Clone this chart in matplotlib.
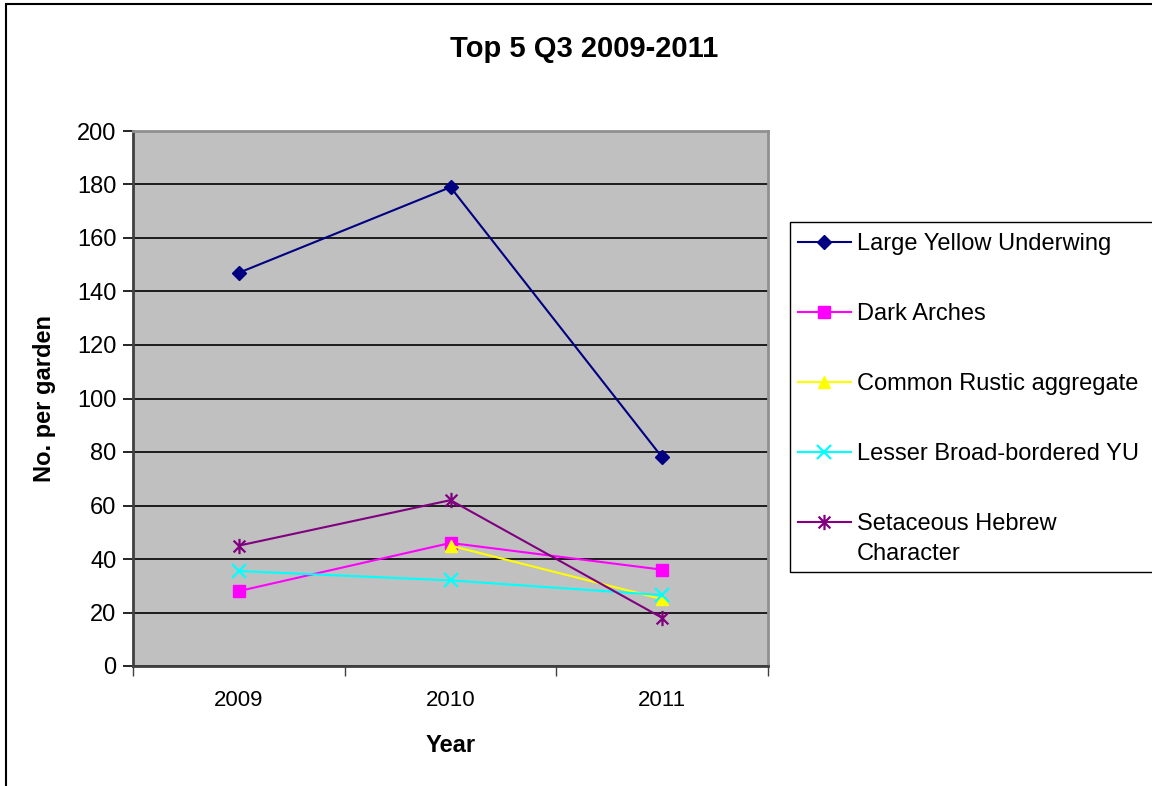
import numpy as np
import matplotlib.pyplot as plt
from matplotlib.path import Path
from matplotlib.patches import Rectangle
from matplotlib.lines import Line2D

plt.rcParams['font.family'] = ['Liberation Sans', 'DejaVu Sans']

# data: moths per garden, third quarter
years = ['2009', '2010', '2011']
large_yellow_underwing = [147, 179, 78]
dark_arches = [28, 46, 36]
common_rustic_agg = [np.nan, 45, 25]
lesser_broad_bordered_yu = [35.5, 32, 26.5]
setaceous_hebrew = [45, 62, 18]

labels = ['Large Yellow Underwing', 'Dark Arches', 'Common Rustic aggregate',
          'Lesser Broad-bordered YU', 'Setaceous Hebrew\nCharacter']
colours = ['#000080', '#FF00FF', '#FFFF00', '#00FFFF', '#800080']

# asterisk marker: an x with a vertical bar through it
star = Path([(-1, -1), (1, 1), (-1, 1), (1, -1), (0, -1.3), (0, 1.3)],
            [Path.MOVETO, Path.LINETO, Path.MOVETO, Path.LINETO, Path.MOVETO, Path.LINETO])
markers = ['D', 's', '^', 'x', star]
msizes = [7, 8, 9, 10, 11]

series = [large_yellow_underwing, dark_arches, common_rustic_agg,
          lesser_broad_bordered_yu, setaceous_hebrew]

fig = plt.figure(figsize=(11.52, 7.86), dpi=100)
W, H = 1152, 786

# chart frame
fig.patches.append(Rectangle((6 / W, -0.1), 1.2, 1 - 4 / H + 0.1, transform=fig.transFigure,
                             fill=False, edgecolor='black', linewidth=1.5))

ax = fig.add_axes([133 / W, 1 - 666 / H, (768 - 133) / W, (666 - 131) / H])
ax.set_facecolor('#C0C0C0')

x = np.arange(len(years))
for vals, c, m, ms in zip(series, colours, markers, msizes):
    mew = 1.6 if m in ('x',) or isinstance(m, Path) else 1
    ax.plot(x, vals, color=c, linewidth=1.5, marker=m, markersize=ms,
            markerfacecolor=c, markeredgecolor=c, markeredgewidth=mew, zorder=3)

ax.set_xlim(-0.5, 2.5)
ax.set_ylim(0, 200)
ax.set_yticks(np.arange(0, 201, 20))
ax.yaxis.grid(True, color='black', linewidth=1.2)
ax.set_axisbelow(True)

ax.set_xticks(x)
ax.set_xticklabels(years, fontsize=16)
ax.set_xticks([-0.5, 0.5, 1.5, 2.5], minor=True)
ax.tick_params(axis='x', which='major', length=0, pad=17)
ax.tick_params(axis='x', which='minor', length=7, width=1, color='#404040')
ax.tick_params(axis='y', length=7, width=1.2, color='black', labelsize=17, pad=5)

ax.spines['left'].set_color('#404040')
ax.spines['bottom'].set_color('#404040')
ax.spines['top'].set_color('#909090')
ax.spines['right'].set_color('#909090')
for s in ax.spines.values():
    s.set_linewidth(2)

fig.text(584 / W, 1 - 49 / H, 'Top 5 Q3 2009-2011', ha='center', va='center',
         fontsize=21, fontweight='bold')
fig.text(45 / W, 1 - 398 / H, 'No. per garden', ha='center', va='center',
         rotation=90, fontsize=17, fontweight='bold')
fig.text(451 / W, 1 - 745 / H, 'Year', ha='center', va='center',
         fontsize=17, fontweight='bold')

# legend box
fig.patches.append(Rectangle((790 / W, 1 - 572 / H), 0.5, (572 - 222) / H,
                             transform=fig.transFigure, facecolor='white',
                             edgecolor='black', linewidth=1))
for i, (lab, c, m, ms) in enumerate(zip(labels, colours, markers, msizes)):
    yy = 1 - (242 + 70 * i) / H
    mew = 1.6 if m in ('x',) or isinstance(m, Path) else 1
    fig.lines.append(Line2D([798 / W, 851 / W], [yy, yy], transform=fig.transFigure,
                            color=c, linewidth=1.5))
    fig.lines.append(Line2D([824 / W], [yy], transform=fig.transFigure, color=c,
                            marker=m, markersize=ms, markerfacecolor=c,
                            markeredgecolor=c, markeredgewidth=mew))
    fig.text(857 / W, yy + 9 / H, lab, ha='left', va='top', fontsize=17,
             linespacing=1.5)

fig.savefig('out.png', dpi=100)
